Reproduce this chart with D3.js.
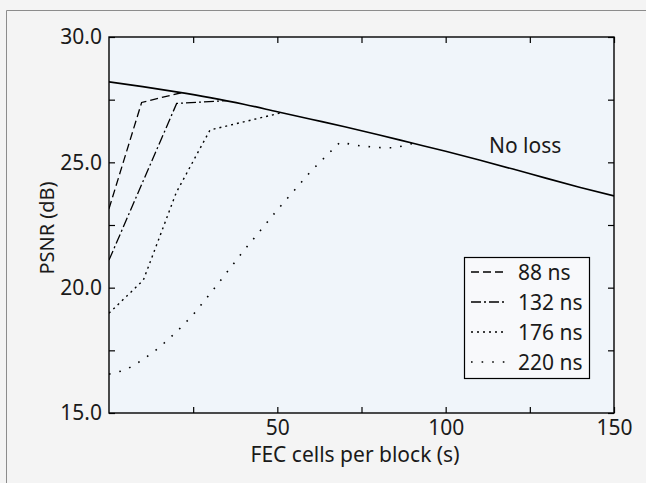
<!DOCTYPE html>
<html><head><meta charset="utf-8">
<script src="https://cdn.jsdelivr.net/npm/d3@7"></script>
<style>html,body{margin:0;padding:0;background:#f4f4f4;} svg{display:block;font-family:'Noto Sans',sans-serif;}</style>
</head><body><svg id="c" width="646" height="483"></svg>
<script>
// ---- data ----
const xMajorTicks = [50, 100, 150];
const xMinorTicks = [25, 75, 125];
const yMajorTicks = [15, 20, 25, 30];
const yMinorTicks = [17.5, 22.5, 27.5];
const seriesNames = ["88 ns", "132 ns", "176 ns", "220 ns"];
const noLossLabel = "No loss";

const noLossS    = [0, 10, 20, 30, 40, 50, 60, 70, 80, 90, 100, 110, 120, 130, 140, 150];
const noLossPSNR = [28.21, 28.02, 27.81, 27.58, 27.32, 27.02, 26.72, 26.42, 26.10, 25.77, 25.44, 25.09, 24.73, 24.36, 24.00, 23.66];

const s88  = [0, 9.7, 21.6];
const p88  = [23.15, 27.39, 27.78];
const s132 = [0, 20.1, 35];
const p132 = [21.1, 27.35, 27.46];
const s176 = [0, 10.2, 20, 30, 51.3];
const p176 = [18.98, 20.3, 23.8, 26.29, 26.98];
const s220 = [0, 5, 10, 15, 20, 25, 30, 40, 50, 60, 68.6, 75, 80, 85, 90.4];
const p220 = [16.55, 16.72, 17.12, 17.62, 18.23, 18.92, 19.75, 21.47, 23.1, 24.65, 25.8, 25.65, 25.59, 25.58, 25.76];

// ---- drawing ----
const svg = d3.select("#c");
const L = 109, R = 614, T = 37, B = 413;
const x = d3.scaleLinear().domain([0, 150]).range([L, R]);
const y = d3.scaleLinear().domain([15, 30]).range([B, T]);

// outer frame (left/top edges visible)
svg.append("path").attr("d", "M6.5,483 V10.5 H646").attr("fill", "none").attr("stroke", "#8c8c8c").attr("stroke-width", 1);

svg.append("rect").attr("x", L).attr("y", T).attr("width", R - L).attr("height", B - T).attr("fill", "#f0f5fa");

const fs = 21;
const txt = "#1a1a1a";
function styleAxis(g, hideText) {
  g.select(".domain").remove();
  g.selectAll(".tick line").attr("stroke", "#000").attr("stroke-width", 1.2);
  g.selectAll(".tick text").attr("font-size", fs).attr("fill", txt).attr("font-family", "'Noto Sans',sans-serif");
  if (hideText) g.selectAll(".tick text").remove();
}
const tIn = -6;
// bottom
svg.append("g").attr("transform", `translate(0,${B})`)
  .call(d3.axisBottom(x).tickValues(xMajorTicks).tickSizeInner(tIn).tickSizeOuter(0).tickPadding(7).tickFormat(d3.format("d")))
  .call(g => styleAxis(g, false));
svg.append("g").attr("transform", `translate(0,${B})`)
  .call(d3.axisBottom(x).tickValues(xMinorTicks).tickSizeInner(tIn).tickSizeOuter(0))
  .call(g => styleAxis(g, true));
// top
svg.append("g").attr("transform", `translate(0,${T})`)
  .call(d3.axisTop(x).tickValues(xMajorTicks.concat(xMinorTicks)).tickSizeInner(tIn).tickSizeOuter(0))
  .call(g => styleAxis(g, true));
// left
svg.append("g").attr("transform", `translate(${L},0)`)
  .call(d3.axisLeft(y).tickValues(yMajorTicks).tickSizeInner(tIn).tickSizeOuter(0).tickPadding(7).tickFormat(d3.format(".1f")))
  .call(g => styleAxis(g, false));
svg.append("g").attr("transform", `translate(${L},0)`)
  .call(d3.axisLeft(y).tickValues(yMinorTicks).tickSizeInner(tIn).tickSizeOuter(0))
  .call(g => styleAxis(g, true));
// right
svg.append("g").attr("transform", `translate(${R},0)`)
  .call(d3.axisRight(y).tickValues(yMajorTicks.concat(yMinorTicks)).tickSizeInner(tIn).tickSizeOuter(0))
  .call(g => styleAxis(g, true));

// frame
svg.append("rect").attr("x", L).attr("y", T).attr("width", R - L).attr("height", B - T)
  .attr("fill", "none").attr("stroke", "#000").attr("stroke-width", 1.4);

// lines
const clipId = "clipPlot";
svg.append("clipPath").attr("id", clipId).append("rect").attr("x", L).attr("y", T).attr("width", R - L).attr("height", B - T);
const lineGen = d3.line().x(d => x(d[0])).y(d => y(d[1]));
const zip = (a, b) => a.map((v, i) => [v, b[i]]);
const gLines = svg.append("g").attr("clip-path", `url(#${clipId})`);

gLines.append("path").datum(zip(noLossS, noLossPSNR))
  .attr("d", d3.line().x(d => x(d[0])).y(d => y(d[1])).curve(d3.curveMonotoneX))
  .attr("fill", "none").attr("stroke", "#000").attr("stroke-width", 1.6);

const styles = [
  { dash: "8,4", w: 1.3 },
  { dash: "10,3,2,3", w: 1.3 },
  { dash: "2,4", w: 1.4 },
  { dash: "1.6,9", w: 1.6 }
];
const seriesData = [zip(s88, p88), zip(s132, p132), zip(s176, p176), zip(s220, p220)];
seriesData.forEach((d, i) => {
  gLines.append("path").datum(d).attr("d", lineGen)
    .attr("fill", "none").attr("stroke", "#000").attr("stroke-width", styles[i].w)
    .attr("stroke-dasharray", styles[i].dash);
});

// No loss label
svg.append("text").attr("x", 489).attr("y", 145).attr("dominant-baseline", "central")
  .attr("font-size", fs).attr("fill", txt).text(noLossLabel);

// legend
const lg = svg.append("g");
lg.append("rect").attr("x", 464.5).attr("y", 257.5).attr("width", 125).attr("height", 121)
  .attr("fill", "#f8f9fb").attr("stroke", "#000").attr("stroke-width", 1.2);
seriesNames.forEach((n, i) => {
  const cy = 272 + i * 30;
  lg.append("line").attr("x1", 471).attr("x2", 505).attr("y1", cy).attr("y2", cy)
    .attr("stroke", "#000").attr("stroke-width", styles[i].w).attr("stroke-dasharray", styles[i].dash);
  lg.append("text").attr("x", 518).attr("y", cy).attr("dominant-baseline", "central")
    .attr("font-size", fs).attr("fill", txt).text(n);
});

// axis titles
svg.append("text").attr("x", 355).attr("y", 454).attr("text-anchor", "middle").attr("dominant-baseline", "central")
  .attr("font-size", fs).attr("fill", txt).text("FEC cells per block (s)");
svg.append("text").attr("transform", "translate(46,228) rotate(-90)").attr("text-anchor", "middle").attr("dominant-baseline", "central")
  .attr("font-size", 20).attr("fill", txt).text("PSNR (dB)");
</script></body></html>
